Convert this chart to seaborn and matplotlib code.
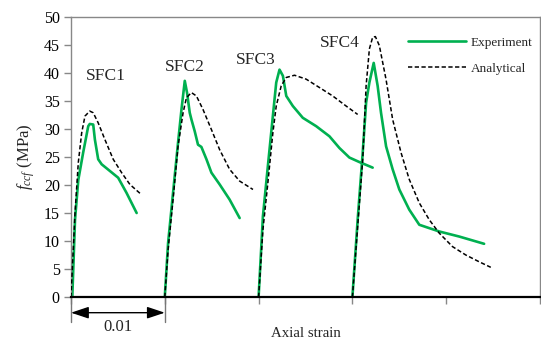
import matplotlib
matplotlib.use("Agg")
import matplotlib.pyplot as plt
import matplotlib.transforms as mtransforms
from matplotlib.lines import Line2D
import seaborn as sns

# Specimen names and the strain offset each curve is shifted by
specimens = ["SFC1", "SFC2", "SFC3", "SFC4"]
offsets = [0.0, 0.01, 0.02, 0.03]

# Experiment curves (strain relative to start, stress MPa)
exp_strain = {
    "SFC1": [0, 0.00014, 0.00043, 0.00078, 0.0013, 0.00184, 0.0020, 0.00237, 0.00255,
             0.0029, 0.00327, 0.00415, 0.00503, 0.00592, 0.0070],
    "SFC2": [0, 0.00035, 0.00088, 0.00141, 0.00178, 0.00213, 0.00237, 0.00266, 0.00284,
             0.00319, 0.00354, 0.0039, 0.00444, 0.00497, 0.00585, 0.00691, 0.00798],
    "SFC3": [0, 0.00046, 0.00099, 0.00152, 0.00188, 0.00223, 0.00259, 0.00295, 0.00365,
             0.00471, 0.00614, 0.00755, 0.00862, 0.00968, 0.01074, 0.01216],
    "SFC4": [0, 0.00056, 0.0011, 0.00146, 0.00181, 0.00227, 0.00269, 0.00305, 0.00359,
             0.00429, 0.0050, 0.00606, 0.00713, 0.00819, 0.00926, 0.01138, 0.01404],
}
exp_stress = {
    "SFC1": [0, 0.05, 13.8, 20.9, 25.8, 30.5, 30.9, 30.8, 28.1, 24.6, 23.7, 22.5, 21.3, 18.6, 15.0],
    "SFC2": [0, 9.6, 18.6, 27.5, 33.5, 38.6, 36.5, 32.9, 31.7, 29.6, 27.2, 26.8, 24.6, 22.2,
             20.1, 17.4, 14.1],
    "SFC3": [0, 14.4, 23.4, 32.3, 38.3, 40.6, 39.5, 35.9, 34.1, 32.0, 30.5, 28.7, 26.6, 24.9,
             24.1, 23.1],
    "SFC4": [0, 13.8, 25.8, 34.7, 38.3, 41.8, 37.7, 32.9, 26.9, 22.8, 19.2, 15.6, 12.9, 12.3,
             11.7, 10.8, 9.5],
}

# Analytical curves
ana_strain = {
    "SFC1": [0, 0.00043, 0.00078, 0.00114, 0.00149, 0.0020, 0.00237, 0.0029, 0.00362,
             0.0045, 0.0054, 0.00628, 0.0075],
    "SFC2": [0, 0.00035, 0.00088, 0.00141, 0.00195, 0.00231, 0.00284, 0.00337, 0.00407,
             0.00497, 0.00585, 0.00691, 0.00798, 0.0094],
    "SFC3": [0, 0.00046, 0.00099, 0.00152, 0.00188, 0.00241, 0.00295, 0.00383, 0.00507,
             0.00649, 0.0079, 0.00933, 0.01056],
    "SFC4": [0, 0.00056, 0.0011, 0.00146, 0.00181, 0.00216, 0.00245, 0.00287, 0.00358,
             0.00429, 0.00518, 0.00606, 0.00713, 0.00819, 0.00926, 0.01067, 0.01209,
             0.0135, 0.01475],
}
ana_stress = {
    "SFC1": [0, 15.0, 24.0, 29.3, 32.3, 33.2, 32.9, 31.1, 28.1, 24.6, 22.2, 20.1, 18.3],
    "SFC2": [0, 8.4, 17.4, 26.9, 32.9, 35.6, 36.5, 35.9, 33.5, 29.9, 26.3, 22.8, 20.7, 19.2],
    "SFC3": [0, 12.0, 20.4, 29.3, 34.1, 37.7, 39.2, 39.6, 38.9, 37.4, 35.9, 34.1, 32.6],
    "SFC4": [0, 12.6, 24.6, 37.7, 44.3, 46.4, 46.5, 44.9, 38.9, 31.7, 25.8, 21.0, 16.8, 13.8,
             11.4, 9.0, 7.5, 6.3, 5.3],
}

# label positions (strain, stress)
label_x = [0.00373, 0.01215, 0.01972, 0.02868]
label_y = [39.5, 41.0, 42.3, 45.4]

GREEN = "#00B050"
DASH = (0, (2.8, 1.6))

sns.set_theme(style="white")
plt.rcParams["font.family"] = ["Liberation Serif", "DejaVu Serif"]
plt.rcParams["mathtext.fontset"] = "custom"
plt.rcParams["mathtext.rm"] = "Liberation Serif"
plt.rcParams["mathtext.it"] = "Liberation Serif:italic"

fig = plt.figure(figsize=(5.41, 3.44), dpi=100)
ax = fig.add_axes([0.1312, 0.1366, 0.8670, 0.8140])

for name, off in zip(specimens, offsets):
    sns.lineplot(x=[s + off for s in ana_strain[name]], y=ana_stress[name], sort=False,
                 estimator=None, color="black", lw=1.1, ax=ax, zorder=3, linestyle=DASH)
    sns.lineplot(x=[s + off for s in exp_strain[name]], y=exp_stress[name], sort=False,
                 estimator=None, color=GREEN, lw=1.9, ax=ax, zorder=2)

for name, lx, ly in zip(specimens, label_x, label_y):
    ax.text(lx, ly, name, fontsize=12.5, ha="center", va="center")

ax.set_xlim(0, 0.05)
ax.set_ylim(0, 50)
ax.set_yticks(range(0, 51, 5))
ax.set_xticks([0, 0.01, 0.02, 0.03, 0.04, 0.05])
ax.set_xticklabels([])
ax.tick_params(axis="both", direction="out", length=5, width=1, color="#888888",
               labelsize=11.5, pad=3)
ax.tick_params(axis="y", labelcolor="black")
ax.tick_params(axis="x", bottom=True)
ax.tick_params(axis="y", left=True)

for side in ["left", "top", "right"]:
    ax.spines[side].set_color("#888888")
    ax.spines[side].set_linewidth(1.0)
ax.spines["bottom"].set_color("black")
ax.spines["bottom"].set_linewidth(1.6)

ax.set_xlabel("Axial strain", fontsize=10.7)
ax.xaxis.set_label_coords(0.5, -0.108)
ax.set_ylabel(r"$f_{ccf}$ (MPa)", fontsize=12, labelpad=5)

# dimension marker for 0.01 strain
trans = mtransforms.blended_transform_factory(ax.transData, ax.transAxes)
for xv in [offsets[0], offsets[1]]:
    ax.plot([xv, xv], [0, -0.09], transform=trans, color="#777777", lw=1.0, clip_on=False)
ax.annotate("", xy=(offsets[1], -0.056), xytext=(offsets[0], -0.056),
            xycoords=trans, textcoords=trans,
            arrowprops=dict(arrowstyle="<|-|>,head_length=0.9,head_width=0.3",
                            color="black", lw=1.0, shrinkA=0, shrinkB=0))
ax.text((offsets[0] + offsets[1]) / 2, -0.108, "0.01", transform=trans,
        ha="center", va="center", fontsize=12)

handles = [Line2D([], [], color=GREEN, lw=1.9),
           Line2D([], [], color="black", lw=1.1, linestyle=DASH)]
ax.legend(handles, ["Experiment", "Analytical"], loc="upper left",
          bbox_to_anchor=(0.7186, 0.93), frameon=False, fontsize=9.5,
          handlelength=4.4, handletextpad=0.35, labelspacing=1.05,
          borderpad=0, borderaxespad=0)

fig.savefig("out.png", dpi=100)
